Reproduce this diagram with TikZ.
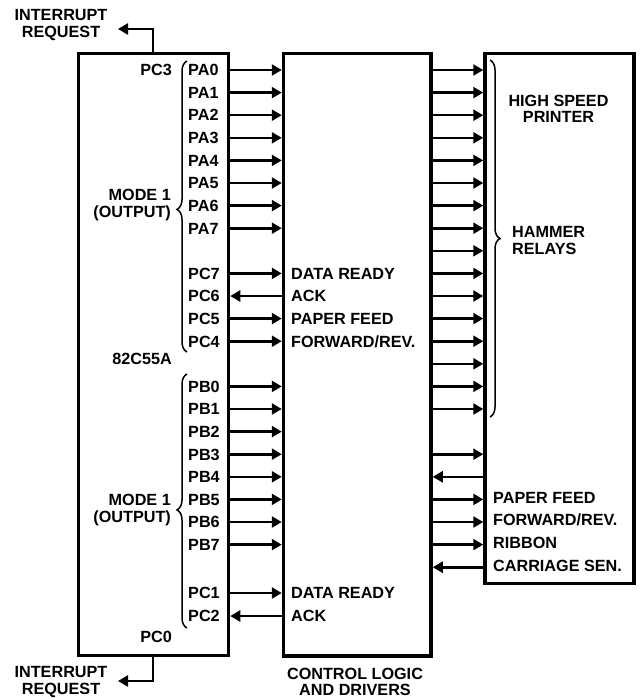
\documentclass[tikz,border=0pt]{standalone}
\usepackage{fontspec}
\setmainfont{Liberation Sans}
\usetikzlibrary{arrows.meta,decorations.pathreplacing}
\begin{document}
\begin{tikzpicture}[x=1pt,y=-1pt,
  box/.style={draw, line width=3.5pt, inner sep=0pt},
  lbl/.style={font=\bfseries\fontsize{16.2}{16.5}\selectfont, inner sep=0pt, text height=11.6pt, text depth=0pt},
  mlbl/.style={font=\bfseries\fontsize{16.2}{16.5}\selectfont, inner sep=0pt},
  arr/.style={line width=2.6pt, -{Triangle[length=10pt,width=11pt]}},
  brc/.style={line width=1.5pt, decorate, decoration={brace, amplitude=10pt}}]
\useasboundingbox (0,0) rectangle (640,698);
% boxes
\node[box, minimum width=150pt, minimum height=602pt] (L) at (153.5,354.5) {};
\node[box, minimum width=147.5pt, minimum height=602.5pt] (M) at (357.25,354.75) {};
\node[box, minimum width=149pt, minimum height=530pt] (R) at (559.5,318.5) {};
% left side, rightward signals
\foreach \i/\t in {0/PA0,1/PA1,2/PA2,3/PA3,4/PA4,5/PA5,6/PA6,7/PA7,9/PC7,11/PC5,12/PC4,14/PB0,15/PB1,16/PB2,17/PB3,18/PB4,19/PB5,20/PB6,21/PB7}{
  \pgfmathsetmacro\yy{70+22.6*\i}
  \node[lbl, anchor=west] (l\t) at (188,\yy) {\t};
  \draw[arr] (L.east |- 0,\yy) -- (M.west |- 0,\yy);
}
\node[lbl, anchor=west] (lPC1) at (188,593) {PC1};
\draw[arr] (L.east |- 0,593) -- (M.west |- 0,593);
\node[lbl, anchor=west] (lPC6) at (188,296) {PC6};
\draw[arr] (M.west |- 0,296) -- (L.east |- 0,296);
\node[lbl, anchor=west] (lPC2) at (188,616) {PC2};
\draw[arr] (M.west |- 0,616) -- (L.east |- 0,616);
% left box other labels
\node[lbl, anchor=east] (pc3) at (172,70) {PC3};
\node[lbl, anchor=east] (pc0) at (172,637) {PC0};
\node[lbl, anchor=east] (chip) at (172,359) {82C55A};
\node[mlbl, align=right, anchor=east] (mode1) at (171,205) {MODE 1\\(OUTPUT)};
\node[mlbl, align=right, anchor=east] (mode2) at (171,510) {MODE 1\\(OUTPUT)};
% braces
\draw[brc, decoration={aspect=0.49}] (187,352) -- (187,61);
\draw[brc, decoration={aspect=0.465}] (187,628) -- (187,374);
\draw[brc] (490,60) -- (490,417);
% middle labels
\node[lbl, anchor=west] (m1) at (291,273.4) {DATA READY};
\node[lbl, anchor=west] (m2) at (291,296) {ACK};
\node[lbl, anchor=west] (m3) at (291,318.6) {PAPER FEED};
\node[lbl, anchor=west] (m4) at (291,341.2) {FORWARD/REV.};
\node[lbl, anchor=west] (m5) at (291,593) {DATA READY};
\node[lbl, anchor=west] (m6) at (291,616) {ACK};
% right side signals
\foreach \i in {0,...,15,17,19,20,21}{
  \pgfmathsetmacro\yy{70+22.6*\i}
  \draw[arr] (M.east |- 0,\yy) -- (R.west |- 0,\yy);
}
\foreach \i in {18,22}{
  \pgfmathsetmacro\yy{70+22.6*\i}
  \draw[arr] (R.west |- 0,\yy) -- (M.east |- 0,\yy);
}
\node[lbl, anchor=west] (r1) at (493,497.4) {PAPER FEED};
\node[lbl, anchor=west] (r2) at (493,520) {FORWARD/REV.};
\node[lbl, anchor=west] (r3) at (493,542.6) {RIBBON};
\node[lbl, anchor=west] (r4) at (493,565.2) {CARRIAGE SEN.};
\node[mlbl, align=center] (hsp) at (558.5,109) {HIGH SPEED\\PRINTER};
\node[mlbl, align=left, anchor=west] (ham) at (512,240.5) {HAMMER\\RELAYS};
% interrupt requests
\node[mlbl, align=center] (irqt) at (61,25) {INTERRUPT\\REQUEST};
\node[mlbl, align=center] (irqb) at (61,682) {INTERRUPT\\REQUEST};
\coordinate (kt) at (153,29);
\coordinate (et) at (118,29);
\coordinate (kb) at (153,681);
\coordinate (eb) at (118,681);
\draw[arr] (L.north -| kt) -- (kt) -- (et);
\draw[arr] (L.south -| kb) -- (kb) -- (eb);
% bottom caption
\node[mlbl, align=center] (ctl) at (355,682) {CONTROL LOGIC\\AND DRIVERS};
\end{tikzpicture}
\end{document}
